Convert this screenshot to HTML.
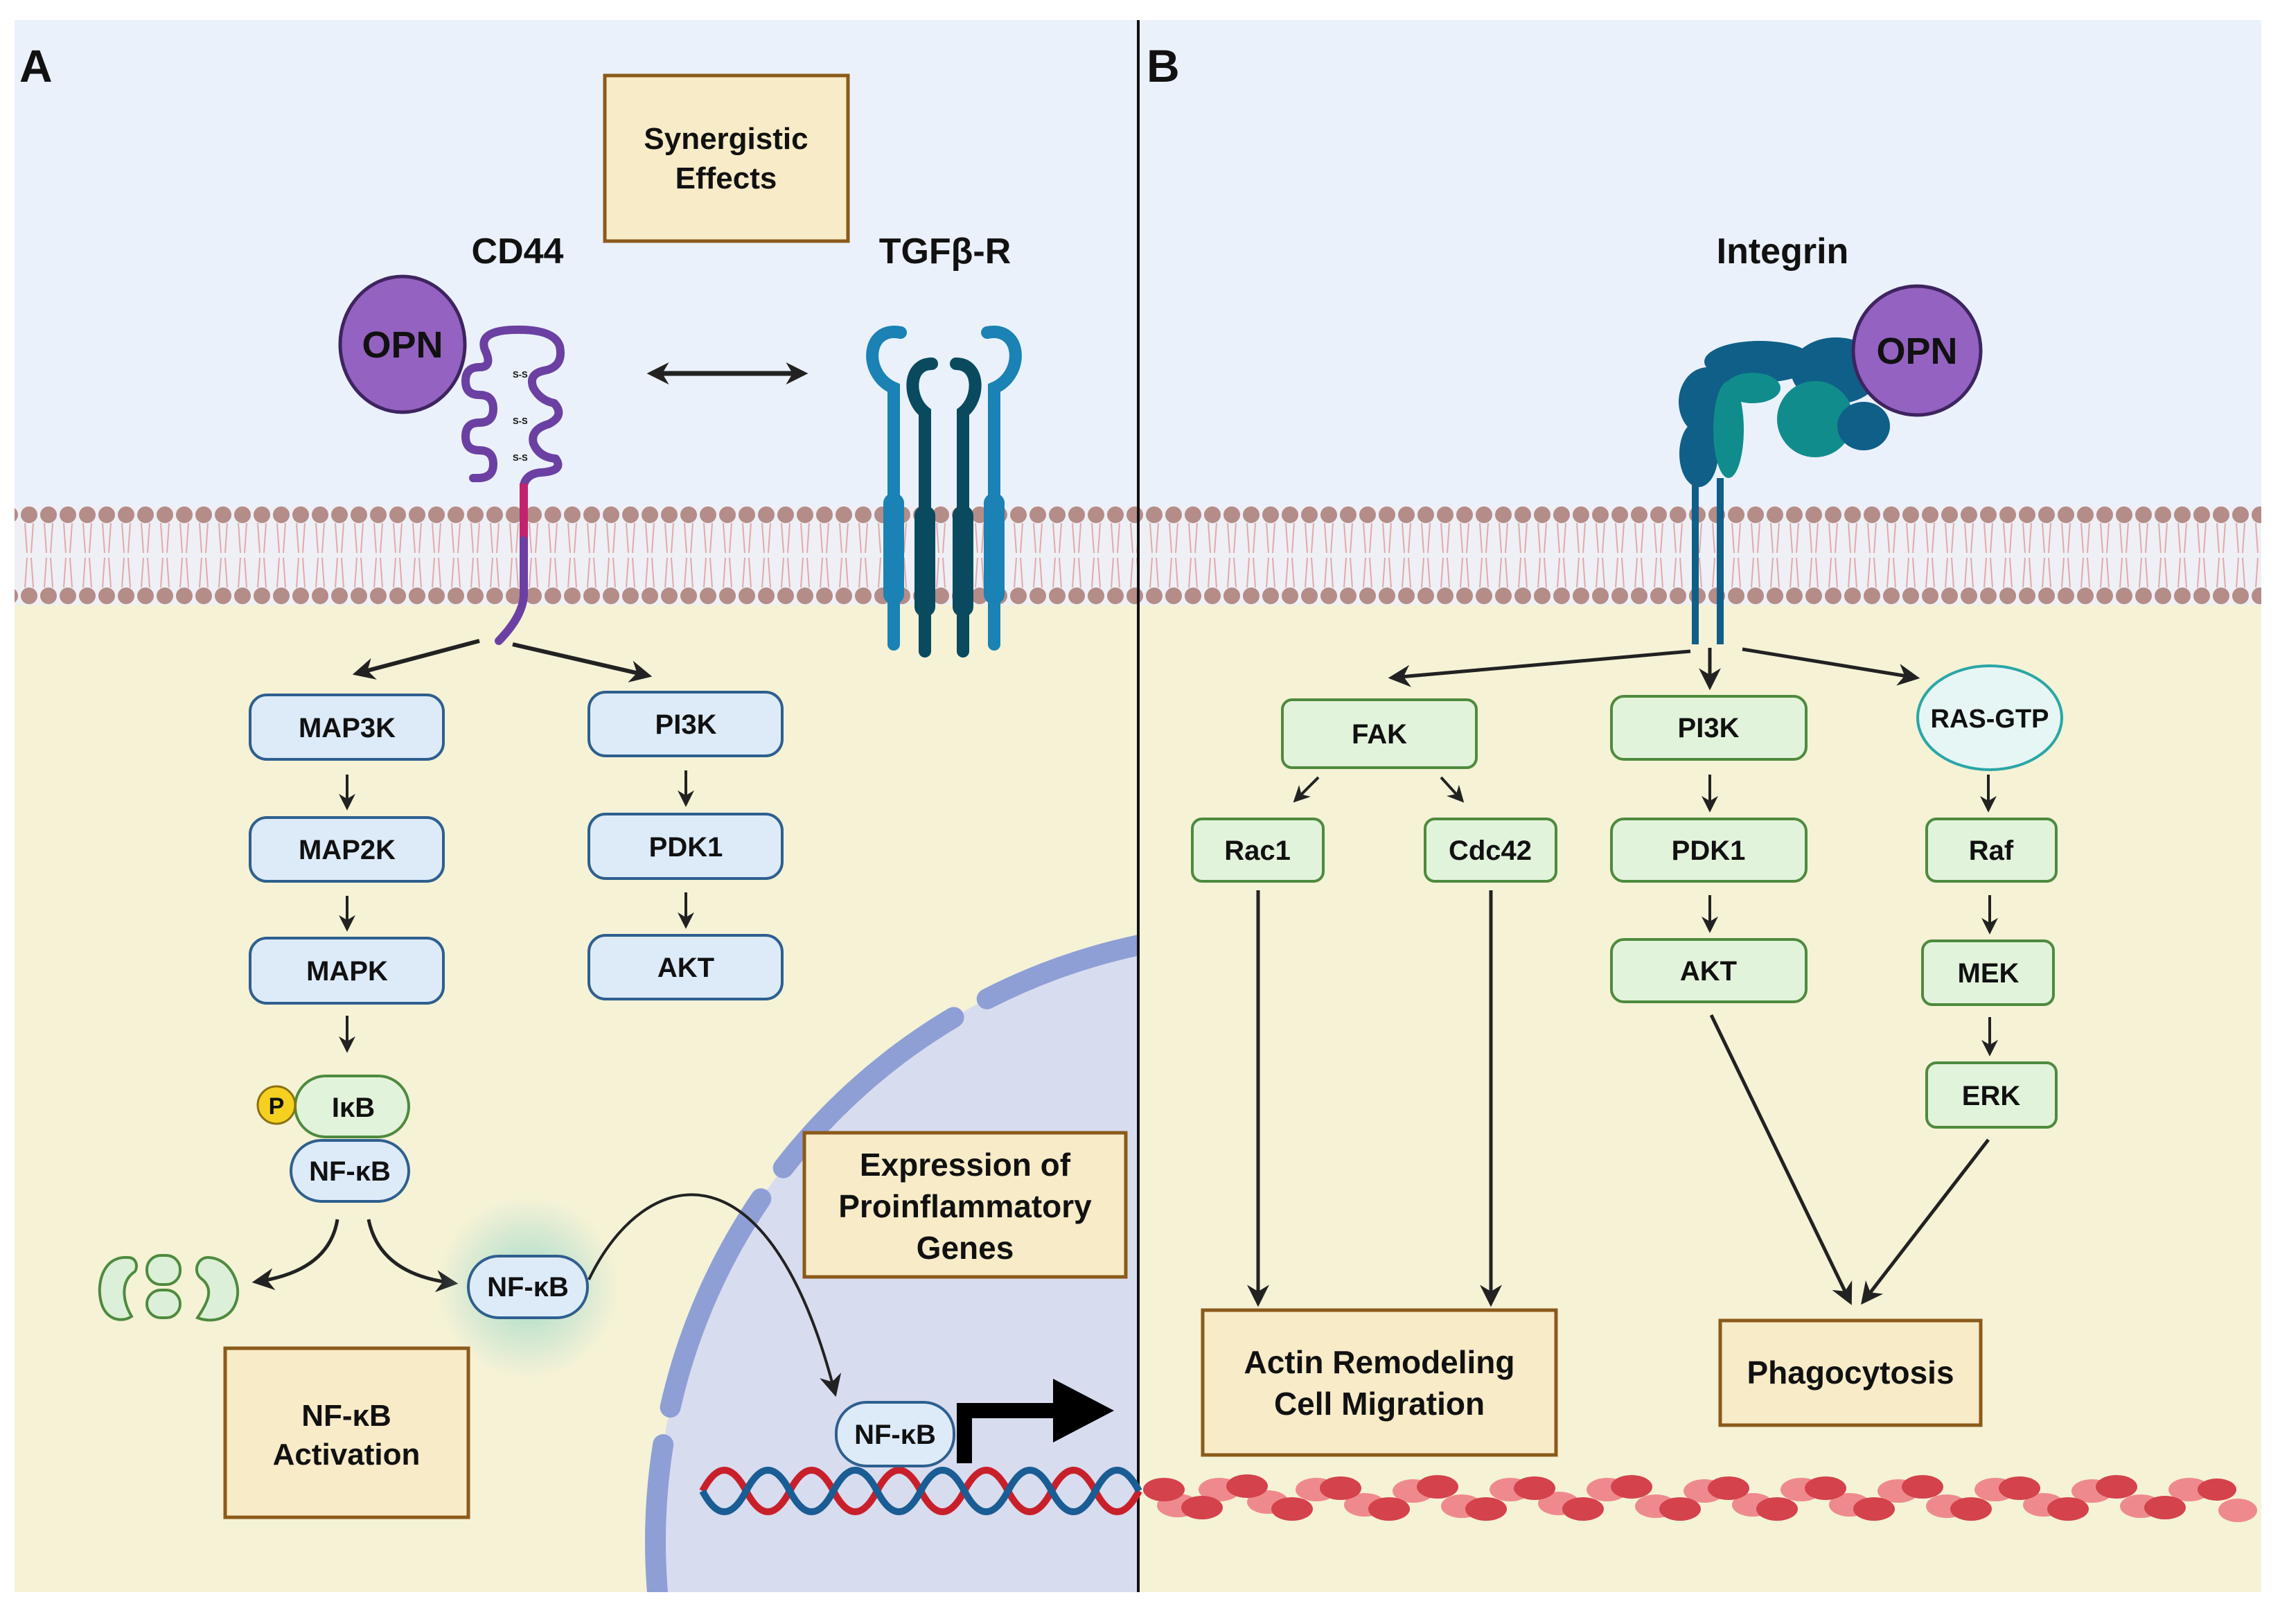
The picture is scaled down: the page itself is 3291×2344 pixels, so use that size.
<!DOCTYPE html>
<html><head><meta charset="utf-8"><style>
html,body{margin:0;padding:0;background:#fff;width:3291px;height:2344px;overflow:hidden;}
svg{display:block;}
text{font-family:"Liberation Sans",sans-serif;font-weight:bold;fill:#111;}
</style></head><body>
<svg width="3291" height="2344" viewBox="0 0 3291 2344" xmlns="http://www.w3.org/2000/svg">
<defs>
<marker id="a" viewBox="0 0 10 10" refX="8" refY="5" markerWidth="32" markerHeight="32" orient="auto-start-reverse" markerUnits="userSpaceOnUse"><path d="M0,0 L10,5 L0,10 L3,5 z" fill="#222"/></marker>
<marker id="as" viewBox="0 0 10 10" refX="8" refY="5" markerWidth="24" markerHeight="24" orient="auto-start-reverse" markerUnits="userSpaceOnUse"><path d="M0,0 L10,5 L0,10 L3,5 z" fill="#222"/></marker>
<pattern id="mem" patternUnits="userSpaceOnUse" x="0" y="730" width="28" height="143">
<rect width="28" height="143" fill="#EEF0F6"/>
<path d="M8,25 L11,68 M20,25 L17,68 M8,118 L11,75 M20,118 L17,75" stroke="#E3A9A9" stroke-width="2" fill="none"/>
<circle cx="14" cy="13" r="12" fill="#B48C88"/>
<circle cx="14" cy="130" r="12" fill="#B48C88"/>
</pattern>
<radialGradient id="glow"><stop offset="0" stop-color="#8FD3C8" stop-opacity="0.8"/><stop offset="1" stop-color="#8FD3C8" stop-opacity="0"/></radialGradient>
<clipPath id="clipA"><rect x="21" y="29" width="1620" height="2269"/></clipPath>
</defs>

<rect x="21" y="29" width="3243" height="705" fill="#EAF1FB"/>
<rect x="21" y="868" width="3243" height="1430" fill="#F5F2D6"/>
<rect x="21" y="730" width="3243" height="143" fill="url(#mem)"/>

<g clip-path="url(#clipA)">
<circle cx="1826" cy="2225" r="880" fill="#D8DCEF"/>
<circle cx="1826" cy="2225" r="880" fill="none" stroke="#8E9FD6" stroke-width="30" stroke-linecap="round" stroke-dasharray="330 55" stroke-dashoffset="120"/>
</g>

<line x1="1643" y1="29" x2="1643" y2="2298" stroke="#111" stroke-width="4"/>

<text x="28" y="118" font-size="66">A</text>
<text x="1655" y="118" font-size="66">B</text>

<rect x="873" y="109" width="351" height="239" fill="#F8EBC8" stroke="#8B5A1A" stroke-width="5"/>
<text x="1048" y="215" font-size="44" text-anchor="middle">Synergistic</text>
<text x="1048" y="272" font-size="44" text-anchor="middle">Effects</text>

<text x="747" y="380" font-size="52" text-anchor="middle">CD44</text>
<text x="1364" y="380" font-size="52" text-anchor="middle">TGFβ-R</text>
<text x="2573" y="380" font-size="52" text-anchor="middle">Integrin</text>

<ellipse cx="581" cy="497" rx="90" ry="98" fill="#9462C0" stroke="#3E2460" stroke-width="5"/>
<text x="581" y="516" font-size="54" text-anchor="middle">OPN</text>

<path d="M683,690 L690,690 Q712,690 712,670 Q712,650 692,650 Q672,650 672,630 Q672,610 692,610 Q712,610 712,590 Q712,570 692,570 Q672,570 672,550 Q672,530 692,530 Q712,530 700,505 Q690,478 740,476 Q800,474 808,500 Q814,530 785,535 Q762,540 770,560 Q780,578 800,582 Q816,600 792,612 Q765,620 770,640 Q778,660 802,662 Q815,680 780,682 Q760,684 756,700" fill="none" stroke="#6B40A2" stroke-width="12" stroke-linecap="round" stroke-linejoin="round"/>
<text x="740" y="545" font-size="13" font-weight="normal" fill="#555">S-S</text>
<text x="740" y="612" font-size="13" font-weight="normal" fill="#555">S-S</text>
<text x="740" y="665" font-size="13" font-weight="normal" fill="#555">S-S</text>
<line x1="756" y1="698" x2="756" y2="780" stroke="#C2236E" stroke-width="12"/>
<path d="M756,780 L756,860 Q754,890 720,925" fill="none" stroke="#6B40A2" stroke-width="12" stroke-linecap="round"/>

<line x1="940" y1="539" x2="1160" y2="539" stroke="#222" stroke-width="7" marker-start="url(#a)" marker-end="url(#a)"/>

<g fill="none" stroke-linecap="round">
<path d="M1300,480 C1250,470 1245,540 1290,560 L1290,930" stroke="#1A82B4" stroke-width="18"/>
<path d="M1425,480 C1475,470 1480,540 1435,560 L1435,930" stroke="#1A82B4" stroke-width="18"/>
<path d="M1345,525 C1310,525 1310,575 1335,595 L1335,940" stroke="#0A4A5E" stroke-width="18"/>
<path d="M1380,525 C1415,525 1415,575 1390,595 L1390,940" stroke="#0A4A5E" stroke-width="18"/>
</g>
<rect x="1275" y="712" width="30" height="160" rx="14" fill="#1A82B4"/>
<rect x="1420" y="712" width="30" height="160" rx="14" fill="#1A82B4"/>
<rect x="1320" y="730" width="30" height="160" rx="14" fill="#0A4A5E"/>
<rect x="1375" y="730" width="30" height="160" rx="14" fill="#0A4A5E"/>

<line x1="692" y1="925" x2="515" y2="972" stroke="#222" stroke-width="6" marker-end="url(#a)"/>
<line x1="740" y1="930" x2="935" y2="975" stroke="#222" stroke-width="6" marker-end="url(#a)"/>

<g stroke="#2E5F8E" stroke-width="4" fill="#DDEBF9">
<rect x="361" y="1003" width="279" height="93" rx="24"/>
<rect x="361" y="1180" width="279" height="92" rx="24"/>
<rect x="361" y="1354" width="279" height="94" rx="24"/>
<rect x="850" y="999" width="279" height="92" rx="24"/>
<rect x="850" y="1175" width="279" height="93" rx="24"/>
<rect x="850" y="1350" width="279" height="92" rx="24"/>
</g>
<g font-size="40" text-anchor="middle">
<text x="501" y="1064">MAP3K</text>
<text x="501" y="1240">MAP2K</text>
<text x="501" y="1415">MAPK</text>
<text x="990" y="1059">PI3K</text>
<text x="990" y="1236">PDK1</text>
<text x="990" y="1410">AKT</text>
</g>
<g stroke="#222" stroke-width="4">
<line x1="501" y1="1118" x2="501" y2="1165" marker-end="url(#as)"/>
<line x1="501" y1="1293" x2="501" y2="1340" marker-end="url(#as)"/>
<line x1="501" y1="1466" x2="501" y2="1515" marker-end="url(#as)"/>
<line x1="990" y1="1112" x2="990" y2="1160" marker-end="url(#as)"/>
<line x1="990" y1="1288" x2="990" y2="1336" marker-end="url(#as)"/>
</g>

<rect x="426" y="1553" width="164" height="88" rx="44" fill="#E2F3DB" stroke="#4E8A3E" stroke-width="4"/>
<circle cx="399" cy="1595" r="27" fill="#F5D020" stroke="#8A7010" stroke-width="3"/>
<text x="399" y="1608" font-size="34" font-weight="normal" text-anchor="middle">P</text>
<text x="510" y="1612" font-size="40" text-anchor="middle">IκB</text>
<rect x="420" y="1646" width="170" height="88" rx="44" fill="#DDEBF9" stroke="#2E5F8E" stroke-width="4"/>
<text x="505" y="1704" font-size="40" text-anchor="middle">NF-κB</text>

<path d="M487,1760 Q475,1835 370,1850" fill="none" stroke="#222" stroke-width="5" marker-end="url(#a)"/>
<path d="M532,1760 Q548,1840 655,1852" fill="none" stroke="#222" stroke-width="5" marker-end="url(#a)"/>

<g fill="#DCEFD8" stroke="#4E8A3E" stroke-width="4">
<path d="M185,1815 C150,1812 140,1850 145,1875 C150,1905 175,1910 190,1900 C178,1880 172,1850 195,1835 C200,1825 195,1815 185,1815z"/>
<path d="M300,1815 C330,1815 348,1850 342,1875 C335,1905 305,1910 285,1902 C300,1880 310,1860 290,1845 C278,1835 285,1815 300,1815z"/>
<rect x="212" y="1812" width="48" height="42" rx="20"/>
<rect x="212" y="1862" width="48" height="40" rx="20"/>
</g>

<circle cx="762" cy="1858" r="130" fill="url(#glow)"/>
<rect x="676" y="1813" width="172" height="89" rx="44" fill="#DDEBF9" stroke="#2E5F8E" stroke-width="4"/>
<text x="762" y="1871" font-size="40" text-anchor="middle">NF-κB</text>

<rect x="325" y="1946" width="351" height="244" fill="#F8EBC8" stroke="#8B5A1A" stroke-width="5"/>
<text x="500" y="2058" font-size="44" text-anchor="middle">NF-κB</text>
<text x="500" y="2114" font-size="44" text-anchor="middle">Activation</text>

<rect x="1161" y="1635" width="464" height="208" fill="#F8EBC8" stroke="#8B5A1A" stroke-width="5"/>
<text x="1393" y="1697" font-size="46" text-anchor="middle">Expression of</text>
<text x="1393" y="1757" font-size="46" text-anchor="middle">Proinflammatory</text>
<text x="1393" y="1817" font-size="46" text-anchor="middle">Genes</text>

<path d="M850,1847 C930,1680 1110,1640 1205,2010" fill="none" stroke="#222" stroke-width="4" marker-end="url(#a)"/>

<path d="M1014,2152 q31.5,-60 63,0 t63,0 t63,0 t63,0 t63,0 t63,0 t63,0 t63,0 t63,0 t63,0" fill="none" stroke="#C8202A" stroke-width="10"/>
<path d="M1014,2152 q31.5,60 63,0 t63,0 t63,0 t63,0 t63,0 t63,0 t63,0 t63,0 t63,0 t63,0" fill="none" stroke="#1A5C94" stroke-width="10"/>
<rect x="1207" y="2024" width="170" height="92" rx="44" fill="#DDEBF9" stroke="#2E5F8E" stroke-width="4"/>
<text x="1292" y="2084" font-size="40" text-anchor="middle">NF-κB</text>
<path d="M1392,2112 L1392,2036 L1555,2036" fill="none" stroke="#000" stroke-width="22"/>
<path d="M1520,1990 L1608,2036 L1520,2082 z" fill="#000"/>

<g stroke="#0F5F88" stroke-width="10">
<line x1="2447" y1="690" x2="2447" y2="930"/>
<line x1="2483" y1="690" x2="2483" y2="930"/>
</g>
<g fill="#0F5F88">
<ellipse cx="2452" cy="655" rx="28" ry="48"/>
<ellipse cx="2465" cy="580" rx="42" ry="50"/>
<ellipse cx="2540" cy="522" rx="80" ry="30"/>
<ellipse cx="2650" cy="535" rx="65" ry="48"/>
</g>
<g fill="#118C8C">
<ellipse cx="2620" cy="605" rx="55" ry="55"/>
<ellipse cx="2495" cy="620" rx="22" ry="70"/>
<ellipse cx="2530" cy="560" rx="40" ry="22"/>
</g>
<ellipse cx="2690" cy="615" rx="38" ry="35" fill="#0F5F88"/>
<ellipse cx="2767" cy="506" rx="92" ry="93" fill="#9462C0" stroke="#3E2460" stroke-width="5"/>
<text x="2767" y="525" font-size="54" text-anchor="middle">OPN</text>

<g stroke="#222" stroke-width="5">
<line x1="2440" y1="940" x2="2010" y2="978" marker-end="url(#a)"/>
<line x1="2468" y1="935" x2="2468" y2="990" marker-end="url(#a)"/>
<line x1="2515" y1="937" x2="2765" y2="978" marker-end="url(#a)"/>
</g>

<g stroke="#4E8A3E" stroke-width="4" fill="#E2F3DB">
<rect x="1851" y="1010" width="280" height="98" rx="14"/>
<rect x="1721" y="1182" width="189" height="90" rx="14"/>
<rect x="2057" y="1182" width="189" height="90" rx="14"/>
<rect x="2326" y="1005" width="281" height="91" rx="18"/>
<rect x="2326" y="1182" width="281" height="90" rx="18"/>
<rect x="2326" y="1356" width="281" height="90" rx="18"/>
<rect x="2781" y="1182" width="187" height="90" rx="14"/>
<rect x="2775" y="1358" width="189" height="92" rx="14"/>
<rect x="2781" y="1534" width="187" height="93" rx="14"/>
</g>
<ellipse cx="2872" cy="1036" rx="104" ry="75" fill="#E6F6F4" stroke="#2AA6A6" stroke-width="4"/>
<g font-size="40" text-anchor="middle">
<text x="1991" y="1073">FAK</text>
<text x="1815" y="1241">Rac1</text>
<text x="2151" y="1241">Cdc42</text>
<text x="2466" y="1064">PI3K</text>
<text x="2466" y="1241">PDK1</text>
<text x="2466" y="1415">AKT</text>
<text x="2874" y="1241">Raf</text>
<text x="2870" y="1418">MEK</text>
<text x="2874" y="1595">ERK</text>
<text x="2872" y="1050" font-size="38">RAS-GTP</text>
</g>
<g stroke="#222" stroke-width="4">
<line x1="1903" y1="1122" x2="1870" y2="1155" marker-end="url(#as)"/>
<line x1="2080" y1="1122" x2="2110" y2="1155" marker-end="url(#as)"/>
<line x1="2468" y1="1118" x2="2468" y2="1168" marker-end="url(#as)"/>
<line x1="2468" y1="1292" x2="2468" y2="1342" marker-end="url(#as)"/>
<line x1="2870" y1="1118" x2="2870" y2="1168" marker-end="url(#as)"/>
<line x1="2872" y1="1292" x2="2872" y2="1344" marker-end="url(#as)"/>
<line x1="2872" y1="1468" x2="2872" y2="1520" marker-end="url(#as)"/>
</g>
<g stroke="#222" stroke-width="5">
<line x1="1816" y1="1285" x2="1816" y2="1880" marker-end="url(#a)"/>
<line x1="2152" y1="1285" x2="2152" y2="1880" marker-end="url(#a)"/>
<line x1="2470" y1="1465" x2="2670" y2="1878" marker-end="url(#a)"/>
<line x1="2870" y1="1645" x2="2690" y2="1878" marker-end="url(#a)"/>
</g>

<rect x="1736" y="1891" width="510" height="209" fill="#F8EBC8" stroke="#8B5A1A" stroke-width="5"/>
<text x="1991" y="1982" font-size="46" text-anchor="middle">Actin Remodeling</text>
<text x="1991" y="2042" font-size="46" text-anchor="middle">Cell Migration</text>
<rect x="2483" y="1906" width="376" height="151" fill="#F8EBC8" stroke="#8B5A1A" stroke-width="5"/>
<text x="2671" y="1997" font-size="46" text-anchor="middle">Phagocytosis</text>

<g>
<g fill="#EE8A8E">
<ellipse cx="1700" cy="2173" rx="30" ry="17"/><ellipse cx="1760" cy="2150" rx="30" ry="17"/><ellipse cx="1830" cy="2168" rx="30" ry="17"/><ellipse cx="1900" cy="2150" rx="30" ry="17"/><ellipse cx="1970" cy="2172" rx="30" ry="17"/><ellipse cx="2040" cy="2152" rx="30" ry="17"/><ellipse cx="2110" cy="2174" rx="30" ry="17"/><ellipse cx="2180" cy="2150" rx="30" ry="17"/><ellipse cx="2250" cy="2170" rx="30" ry="17"/><ellipse cx="2320" cy="2150" rx="30" ry="17"/><ellipse cx="2390" cy="2174" rx="30" ry="17"/><ellipse cx="2460" cy="2152" rx="30" ry="17"/><ellipse cx="2530" cy="2172" rx="30" ry="17"/><ellipse cx="2600" cy="2150" rx="30" ry="17"/><ellipse cx="2670" cy="2172" rx="30" ry="17"/><ellipse cx="2740" cy="2152" rx="30" ry="17"/><ellipse cx="2810" cy="2174" rx="30" ry="17"/><ellipse cx="2880" cy="2150" rx="30" ry="17"/><ellipse cx="2950" cy="2172" rx="30" ry="17"/><ellipse cx="3020" cy="2152" rx="30" ry="17"/><ellipse cx="3090" cy="2174" rx="30" ry="17"/><ellipse cx="3160" cy="2150" rx="30" ry="17"/><ellipse cx="3230" cy="2180" rx="28" ry="17"/>
</g>
<g fill="#D4424C">
<ellipse cx="1680" cy="2150" rx="30" ry="17"/><ellipse cx="1735" cy="2176" rx="30" ry="17"/><ellipse cx="1800" cy="2145" rx="30" ry="17"/><ellipse cx="1865" cy="2178" rx="30" ry="17"/><ellipse cx="1935" cy="2148" rx="30" ry="17"/><ellipse cx="2005" cy="2178" rx="30" ry="17"/><ellipse cx="2075" cy="2146" rx="30" ry="17"/><ellipse cx="2145" cy="2178" rx="30" ry="17"/><ellipse cx="2215" cy="2148" rx="30" ry="17"/><ellipse cx="2285" cy="2178" rx="30" ry="17"/><ellipse cx="2355" cy="2146" rx="30" ry="17"/><ellipse cx="2425" cy="2178" rx="30" ry="17"/><ellipse cx="2495" cy="2148" rx="30" ry="17"/><ellipse cx="2565" cy="2178" rx="30" ry="17"/><ellipse cx="2635" cy="2148" rx="30" ry="17"/><ellipse cx="2705" cy="2178" rx="30" ry="17"/><ellipse cx="2775" cy="2146" rx="30" ry="17"/><ellipse cx="2845" cy="2178" rx="30" ry="17"/><ellipse cx="2915" cy="2148" rx="30" ry="17"/><ellipse cx="2985" cy="2178" rx="30" ry="17"/><ellipse cx="3055" cy="2146" rx="30" ry="17"/><ellipse cx="3125" cy="2176" rx="30" ry="17"/><ellipse cx="3200" cy="2150" rx="28" ry="16"/>
</g>
</g>
</svg>
</body></html>
